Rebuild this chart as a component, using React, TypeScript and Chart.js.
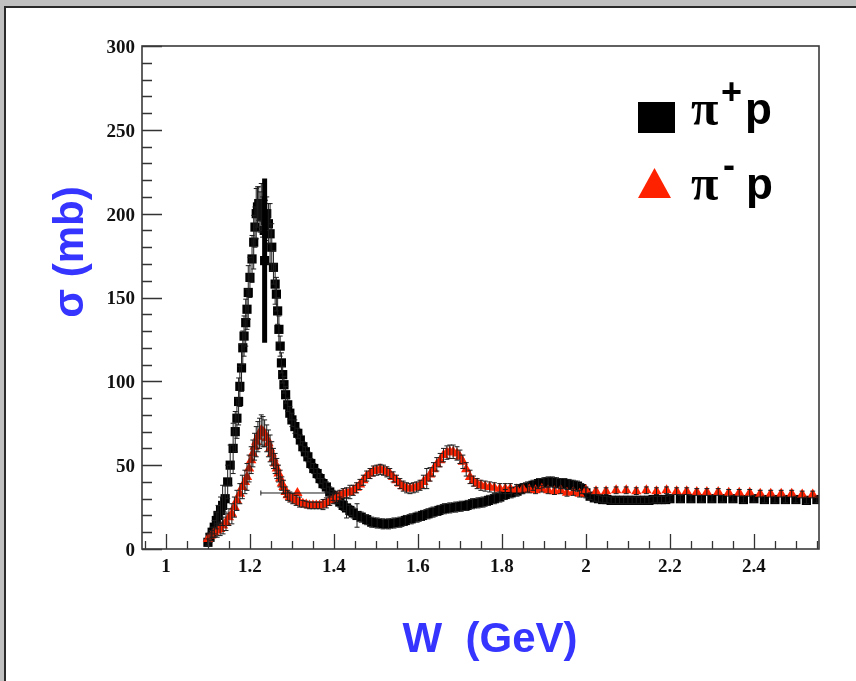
import React, { useEffect, useRef } from 'react';
import { Chart, registerables } from 'chart.js';

Chart.register(...registerables);

// ---------- axis ranges & ticks ----------
const W_MIN = 0.943;
const W_MAX = 2.555;
const SIGMA_MIN = 0;
const SIGMA_MAX = 300;
const xMajorTicks = [1.0, 1.2, 1.4, 1.6, 1.8, 2.0, 2.2, 2.4];
const xMinorTicks = [0.95, 1.05, 1.1, 1.15, 1.25, 1.3, 1.35, 1.45, 1.5, 1.55, 1.65, 1.7, 1.75, 1.85, 1.9, 1.95, 2.05, 2.1, 2.15, 2.25, 2.3, 2.35, 2.45, 2.5, 2.55];
const yMajorTicks = [0, 50, 100, 150, 200, 250, 300];
const yMinorTicks = [10, 20, 30, 40, 60, 70, 80, 90, 110, 120, 130, 140, 160, 170, 180, 190, 210, 220, 230, 240, 260, 270, 280, 290];

// ---------- pi+ p (black squares) ----------
const piPlusW = [
  1.100, 1.105, 1.110, 1.115, 1.120, 1.124, 1.130, 1.135, 1.141, 1.147,
  1.153, 1.160, 1.165, 1.169, 1.173, 1.176, 1.180, 1.183, 1.186, 1.190,
  1.193, 1.196, 1.200, 1.205, 1.209, 1.212, 1.215, 1.218, 1.221, 1.224,
  1.227, 1.230, 1.234, 1.237, 1.240, 1.244, 1.248, 1.252, 1.256, 1.260,
  1.263, 1.266, 1.269, 1.272, 1.275, 1.278, 1.281, 1.285, 1.290, 1.295,
  1.300, 1.307, 1.314, 1.320, 1.326, 1.332, 1.338, 1.345, 1.352, 1.360,
  1.367, 1.374, 1.382, 1.390, 1.398, 1.406, 1.414, 1.422, 1.430, 1.438,
  1.446, 1.455, 1.465, 1.478, 1.490, 1.503, 1.517, 1.530, 1.543, 1.557,
  1.570, 1.584, 1.598, 1.611, 1.624, 1.636, 1.650, 1.663, 1.676, 1.690,
  1.703, 1.717, 1.730, 1.743, 1.755, 1.768, 1.782, 1.795, 1.808, 1.822,
  1.836, 1.848, 1.861, 1.874, 1.887, 1.900, 1.910, 1.920, 1.930, 1.940,
  1.950, 1.960, 1.970, 1.980, 1.990, 2.000, 2.010, 2.020, 2.030, 2.040,
  2.050, 2.060, 2.070, 2.080, 2.090, 2.100, 2.110, 2.120, 2.130, 2.140,
  2.150, 2.160, 2.170, 2.180, 2.190, 2.200, 2.225, 2.250, 2.275, 2.300,
  2.325, 2.350, 2.375, 2.400, 2.425, 2.450, 2.475, 2.500, 2.525, 2.550,
];
const piPlusSigma = [
  4, 7, 10, 13, 17, 20, 23, 26, 30, 40,
  50, 60, 70, 78, 88, 97, 108, 120, 127, 135,
  143, 153, 162, 173, 183, 192, 200, 204, 206, 201,
  204, 198, 190, 196, 200, 194, 188, 180, 168, 158,
  152, 142, 131, 121, 111, 104, 98, 92, 86, 81,
  77, 73, 69, 65, 61, 58, 55, 51, 48, 45,
  42, 39, 37, 34, 32, 30, 28, 26, 24.5, 23,
  21.5, 20, 19, 17.5, 16, 15.5, 15, 15, 15.5, 16,
  17, 18, 19, 20, 21, 22, 23, 24, 24.5, 25,
  25.5, 26, 27, 27.5, 28, 29, 30, 31, 32.5, 33.5,
  34.5, 36, 37, 38, 39, 39.5, 40, 40, 39.5, 39,
  39, 38.5, 38, 37.5, 36, 33.5, 31.5, 30.5, 30, 29.5,
  29.5, 29, 29, 29, 29, 29, 29, 29, 29, 29,
  29, 29.5, 29.5, 29.5, 29.5, 30, 30, 30, 30, 30,
  30, 30, 29.5, 30, 29.5, 29.5, 29.5, 29.5, 29, 29.5,
];
const piPlusErr = [
  2, 3, 3, 4, 5, 6, 8, 12, 8, 10,
  12, 15, 12, 12, 14, 12, 14, 10, 12, 14,
  12, 16, 12, 14, 16, 12, 15, 12, 10, 12,
  14, 12, 16, 12, 10, 12, 18, 14, 10, 12,
  10, 8, 8, 6, 6, 5, 5, 5, 4, 4,
  4, 4, 3, 3, 3, 3, 3, 3, 3, 3,
  3, 3, 3, 3, 3, 3, 3, 3, 6, 3,
  3, 7, 3, 3, 3, 3, 3, 3, 3, 3,
  3, 3, 3, 3, 3, 3, 3, 3, 3, 3,
  3, 3, 3, 3, 3, 3, 3, 3, 3, 3,
  3, 3, 3, 3, 3, 3, 3, 3, 3, 3,
  3, 3, 3, 3, 3, 3, 2, 2, 2, 2,
  2, 2, 2, 2, 2, 2, 2, 2, 2, 2,
  2, 2, 2, 2, 2, 2, 2, 2, 2, 2,
  2, 2, 2, 2, 2, 2, 2, 2, 2, 2,
];

// a single poorly measured pi+ p point with a very large error
const piPlusWideErrW = [1.235];
const piPlusWideErrSigma = [172];
const piPlusWideErrErr = [49];

// ---------- pi- p (red triangles) ----------
const piMinusW = [
  1.100, 1.108, 1.115, 1.122, 1.129, 1.136, 1.143, 1.150, 1.157, 1.163,
  1.169, 1.176, 1.182, 1.188, 1.193, 1.198, 1.203, 1.207, 1.211, 1.215,
  1.219, 1.223, 1.227, 1.231, 1.235, 1.240, 1.244, 1.248, 1.252, 1.256,
  1.260, 1.264, 1.268, 1.272, 1.276, 1.280, 1.285, 1.290, 1.295, 1.302,
  1.310, 1.318, 1.326, 1.334, 1.342, 1.350, 1.358, 1.366, 1.374, 1.382,
  1.390, 1.398, 1.406, 1.414, 1.422, 1.430, 1.438, 1.446, 1.454, 1.462,
  1.470, 1.478, 1.486, 1.494, 1.502, 1.510, 1.518, 1.526, 1.533, 1.541,
  1.549, 1.557, 1.565, 1.573, 1.581, 1.589, 1.597, 1.605, 1.613, 1.621,
  1.629, 1.637, 1.645, 1.653, 1.661, 1.669, 1.676, 1.684, 1.693, 1.700,
  1.707, 1.715, 1.724, 1.732, 1.741, 1.750, 1.760, 1.771, 1.782, 1.795,
  1.808, 1.820, 1.835, 1.850, 1.865, 1.880, 1.895, 1.910, 1.925, 1.940,
  1.955, 1.970, 1.985, 2.000, 2.024, 2.048, 2.072, 2.096, 2.120, 2.144,
  2.168, 2.192, 2.216, 2.240, 2.264, 2.288, 2.315, 2.340, 2.365, 2.390,
  2.415, 2.440, 2.465, 2.490, 2.515, 2.540,
];
const piMinusSigma = [
  6, 8, 10, 11, 12, 14, 16, 19, 21, 25,
  29, 33, 37, 40, 43, 48, 53, 57, 61, 64,
  67, 69, 71, 70, 69, 66, 63, 60, 57, 54,
  51, 48, 45, 42, 39, 37, 34, 32, 31, 30,
  29, 28, 27, 26.5, 26, 26, 26, 26, 26.5, 27.5,
  29, 30, 31, 32, 33, 33.5, 34, 35, 36.5, 38.5,
  41, 43.5, 45, 46.5, 47, 47.5, 47, 46, 45, 43,
  41, 39, 37.5, 36.5, 36, 36.5, 37, 38, 40, 42,
  44.5, 47.5, 50.5, 53, 56, 57.5, 58, 58, 57, 55,
  52, 47.5, 43, 40.5, 39, 38, 37.5, 37, 36.5, 36,
  36, 36, 35.5, 36, 35.5, 35, 36, 35, 34.5, 35,
  33.5, 34, 33, 35, 34.5, 34.5, 35, 35, 34.5, 35,
  34.5, 35, 34.5, 34.5, 34, 34, 34, 33.5, 33.5, 33.5,
  33, 33, 33, 33, 32.5, 32.5,
];
const piMinusErr = [
  3, 3, 3, 4, 4, 5, 5, 5, 6, 6,
  6, 6, 7, 7, 8, 8, 8, 8, 8, 9,
  9, 9, 9, 9, 8, 8, 8, 8, 7, 6,
  6, 6, 5, 5, 4, 4, 3, 3, 3, 3,
  3, 3, 2, 2, 2, 2, 2, 2, 3, 3,
  3, 3, 3, 3, 3, 3, 4, 3, 3, 3,
  3, 3, 3, 3, 3, 3, 3, 3, 3, 3,
  3, 3, 3, 3, 3, 3, 3, 3, 4, 6,
  4, 4, 4, 4, 4, 4, 4, 4, 4, 4,
  4, 4, 4, 3, 3, 3, 3, 3, 3, 3,
  3, 3, 3, 3, 2, 2, 2, 2, 2, 2,
  2, 2, 2, 2, 2, 2, 2, 2, 2, 2,
  2, 2, 2, 2, 2, 2, 2, 2, 2, 2,
  2, 2, 2, 2, 2, 2,
];

// a pi- p point measured in a wide W bin (horizontal error bar)
const piMinusWideBinW = [1.313];
const piMinusWideBinSigma = [33.4];
const piMinusWideBinWErr = [0.087];

// ---------- labels ----------
const xTitle = 'W  (GeV)';
const yTitle = 'σ (mb)';
const legendPlus = { base: 'π', sup: '+', tail: 'p' };
const legendMinus = { base: 'π', sup: '-', tail: 'p' };

const RED = '#ff2200';
const BLUE = '#3535ff';

const toPoints = (xs: number[], ys: number[]) => xs.map((x, i) => ({ x, y: ys[i] }));

const backgroundPlugin = {
  id: 'panelBackground',
  beforeDraw(chart: any) {
    const ctx = chart.ctx;
    ctx.save();
    ctx.fillStyle = '#c0c0c0';
    ctx.fillRect(0, 0, chart.width, chart.height);
    ctx.fillStyle = '#ffffff';
    ctx.fillRect(5, 7, chart.width, chart.height);
    ctx.strokeStyle = '#2a2a2a';
    ctx.lineWidth = 2;
    ctx.strokeRect(5, 7, chart.width + 20, chart.height + 20);
    ctx.restore();
  },
};

const errorBarPlugin = {
  id: 'errorBars',
  afterDatasetsDraw(chart: any) {
    const ctx = chart.ctx;
    const xs = chart.scales.x;
    const ys = chart.scales.y;
    const a = chart.chartArea;
    ctx.save();
    ctx.beginPath();
    ctx.rect(a.left, a.top, a.right - a.left, a.bottom - a.top);
    ctx.clip();
    chart.data.datasets.forEach((ds: any, i: number) => {
      if (!chart.isDatasetVisible(i)) return;
      ctx.strokeStyle = ds.errorBarColor || '#1c1c1c';
      ctx.lineWidth = ds.errorBarWidth || 1;
      const cap = ds.errorBarCap ?? 2.5;
      ds.data.forEach((p: any, j: number) => {
        const px = xs.getPixelForValue(p.x);
        const py = ys.getPixelForValue(p.y);
        const ey = ds.yErr ? ds.yErr[j] : 0;
        const ex = ds.xErr ? ds.xErr[j] : 0;
        if (ey) {
          const y1 = ys.getPixelForValue(p.y - ey);
          const y2 = ys.getPixelForValue(p.y + ey);
          ctx.beginPath();
          ctx.moveTo(px, y1);
          ctx.lineTo(px, y2);
          if (cap > 0) {
            ctx.moveTo(px - cap, y1);
            ctx.lineTo(px + cap, y1);
            ctx.moveTo(px - cap, y2);
            ctx.lineTo(px + cap, y2);
          }
          ctx.stroke();
        }
        if (ex) {
          const x1 = xs.getPixelForValue(p.x - ex);
          const x2 = xs.getPixelForValue(p.x + ex);
          ctx.beginPath();
          ctx.moveTo(x1, py);
          ctx.lineTo(x2, py);
          ctx.moveTo(x1, py - 2.5);
          ctx.lineTo(x1, py + 2.5);
          ctx.moveTo(x2, py - 2.5);
          ctx.lineTo(x2, py + 2.5);
          ctx.stroke();
        }
      });
    });
    ctx.restore();
  },
};

const frameAndLabelsPlugin = {
  id: 'frameAndLabels',
  afterDraw(chart: any) {
    const ctx = chart.ctx;
    const xs = chart.scales.x;
    const ys = chart.scales.y;
    const { left, right, top, bottom } = chart.chartArea;
    ctx.save();
    // inward ticks
    ctx.strokeStyle = '#333333';
    ctx.lineWidth = 1.3;
    ctx.beginPath();
    xMajorTicks.forEach((v) => {
      const p = Math.round(xs.getPixelForValue(v)) + 0.5;
      ctx.moveTo(p, bottom);
      ctx.lineTo(p, bottom - 15);
    });
    xMinorTicks.forEach((v) => {
      const p = Math.round(xs.getPixelForValue(v)) + 0.5;
      ctx.moveTo(p, bottom);
      ctx.lineTo(p, bottom - 8);
    });
    yMajorTicks.forEach((v) => {
      const p = Math.round(ys.getPixelForValue(v)) + 0.5;
      ctx.moveTo(left, p);
      ctx.lineTo(left + 20, p);
    });
    yMinorTicks.forEach((v) => {
      const p = Math.round(ys.getPixelForValue(v)) + 0.5;
      ctx.moveTo(left, p);
      ctx.lineTo(left + 10, p);
    });
    ctx.stroke();
    // frame
    ctx.lineWidth = 1.6;
    ctx.strokeStyle = '#3a3a3a';
    ctx.strokeRect(left, top, right - left, bottom - top);

    // axis titles
    ctx.fillStyle = BLUE;
    ctx.font = 'bold 42px "Liberation Sans", Arial, sans-serif';
    ctx.textAlign = 'center';
    ctx.textBaseline = 'alphabetic';
    ctx.fillText(xTitle, 490, 652);
    ctx.save();
    ctx.translate(83, 252);
    ctx.rotate(-Math.PI / 2);
    ctx.fillText(yTitle, 0, 0);
    ctx.restore();

    // legend
    ctx.fillStyle = '#000000';
    ctx.fillRect(638, 102, 37, 31);
    ctx.fillStyle = RED;
    ctx.beginPath();
    ctx.moveTo(638, 198);
    ctx.lineTo(671, 198);
    ctx.lineTo(654.5, 168);
    ctx.closePath();
    ctx.fill();

    ctx.fillStyle = '#000000';
    ctx.textAlign = 'left';
    ctx.font = 'bold 50px "Liberation Serif", "Times New Roman", serif';
    ctx.fillText(legendPlus.base, 691, 125);
    ctx.fillText(legendMinus.base, 691, 200);
    ctx.font = 'bold 44px "Liberation Sans", Arial, sans-serif';
    ctx.fillText(legendPlus.tail, 745, 124);
    ctx.fillText(legendMinus.tail, 746, 199);
    ctx.font = 'bold 36px "Liberation Sans", Arial, sans-serif';
    ctx.fillText(legendPlus.sup, 721, 104);
    ctx.fillText(legendMinus.sup, 723, 177);
    ctx.restore();
  },
};

export default function App() {
  const canvasRef = useRef<HTMLCanvasElement | null>(null);

  useEffect(() => {
    const canvas = canvasRef.current;
    if (!canvas) return;
    const tickFont = { family: '"Liberation Serif", "Times New Roman", serif', weight: 'bold' as const, size: 19 };
    const chart = new Chart(canvas, {
      type: 'scatter',
      data: {
        datasets: [
          {
            label: 'π⁻p',
            data: toPoints(piMinusW, piMinusSigma),
            yErr: piMinusErr,
            pointStyle: 'triangle',
            pointRadius: 6,
            backgroundColor: RED,
            borderWidth: 0,
            showLine: false,
          } as any,
          {
            label: 'π⁻p (wide bin)',
            data: toPoints(piMinusWideBinW, piMinusWideBinSigma),
            xErr: piMinusWideBinWErr,
            pointStyle: 'triangle',
            pointRadius: 6,
            backgroundColor: RED,
            borderWidth: 0,
            showLine: false,
          } as any,
          {
            label: 'π⁺p',
            data: toPoints(piPlusW, piPlusSigma),
            yErr: piPlusErr,
            pointStyle: 'rect',
            pointRadius: 6.5,
            backgroundColor: '#000000',
            borderWidth: 0,
            showLine: false,
          } as any,
          {
            label: 'π⁺p (large error)',
            data: toPoints(piPlusWideErrW, piPlusWideErrSigma),
            yErr: piPlusWideErrErr,
            errorBarWidth: 5,
            errorBarColor: '#000000',
            errorBarCap: 0,
            pointStyle: 'rect',
            pointRadius: 6.5,
            backgroundColor: '#000000',
            borderWidth: 0,
            showLine: false,
          } as any,
        ],
      },
      options: {
        responsive: false,
        animation: false,
        devicePixelRatio: 1,
        layout: { padding: { left: 0, top: 46, right: 37, bottom: 92 } },
        plugins: {
          legend: { display: false },
          tooltip: { enabled: false },
        },
        scales: {
          x: {
            type: 'linear',
            min: W_MIN,
            max: W_MAX,
            grid: { display: false, drawTicks: false },
            border: { display: false },
            ticks: {
              stepSize: 0.2,
              includeBounds: false,
              autoSkip: false,
              maxRotation: 0,
              padding: 7,
              color: '#111111',
              font: tickFont,
              callback: (v: any) => String(Math.round(Number(v) * 10) / 10),
            },
            afterFit: (scale: any) => {
              scale.height = 40;
            },
          },
          y: {
            type: 'linear',
            min: SIGMA_MIN,
            max: SIGMA_MAX,
            grid: { display: false, drawTicks: false },
            border: { display: false },
            ticks: {
              stepSize: 50,
              autoSkip: false,
              padding: 7,
              labelOffset: 2,
              color: '#111111',
              font: tickFont,
            },
            afterFit: (scale: any) => {
              scale.width = 142;
            },
          },
        },
      },
      plugins: [backgroundPlugin, errorBarPlugin, frameAndLabelsPlugin],
    } as any);
    return () => chart.destroy();
  }, []);

  return (
    <div style={{ position: 'fixed', left: 0, top: 0, width: 856, height: 681 }}>
      <canvas ref={canvasRef} width={856} height={681} style={{ display: 'block', width: 856, height: 681 }} />
    </div>
  );
}
